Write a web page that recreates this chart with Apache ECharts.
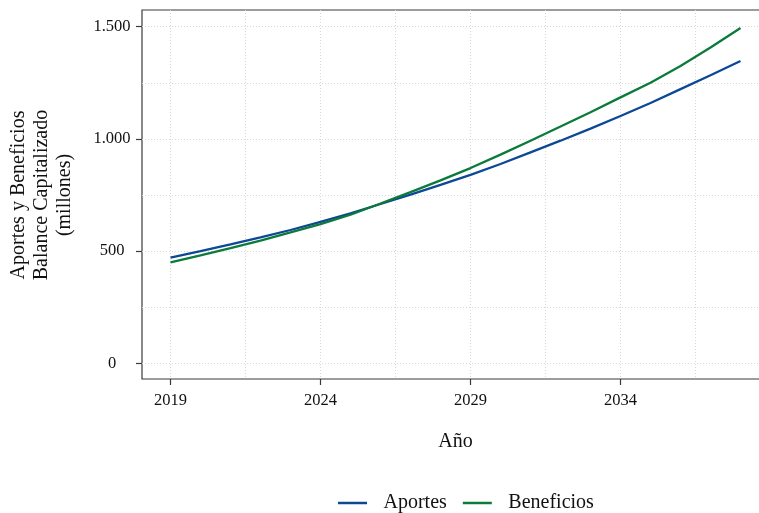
<!DOCTYPE html>
<html>
<head>
<meta charset="utf-8">
<script src="https://cdn.jsdelivr.net/npm/echarts@6/dist/echarts.min.js"></script>
<style>
  html, body { margin: 0; padding: 0; background: #ffffff; }
  #chart { width: 759px; height: 513px; }
</style>
</head>
<body>
<div id="chart"></div>
<script>
// Balance capitalizado: aportes y beneficios acumulados, en millones
const years = [2019, 2020, 2021, 2022, 2023, 2024, 2025, 2026, 2027, 2028,
               2029, 2030, 2031, 2032, 2033, 2034, 2035, 2036, 2037, 2038];
const aportes = [471, 500, 530, 561, 594, 630, 668, 710, 752, 795,
                 840, 888, 940, 992, 1046, 1102, 1160, 1222, 1284, 1347];
const beneficios = [450, 481, 513, 547, 583, 620, 662, 712, 763, 815,
                    870, 930, 992, 1055, 1119, 1185, 1250, 1325, 1407, 1494];
const seriesNames = ['Aportes', 'Beneficios'];
const yTickLabels = [0, 500, 1000, 1500];
const xTickLabels = [2019, 2024, 2029, 2034];

const FONT = 'Liberation Serif';
const TEXT = '#111111';
const AXIS = '#3a3a3a';
const BLUE = '#0d4896';
const GREEN = '#0b7a3b';

const gridLine = { show: true, lineStyle: { color: '#d8d8d8', width: 1, type: [1, 2] } };
const tickStyle = { show: true, length: 6, lineStyle: { color: AXIS, width: 1.2 } };
const hidden = { show: false };

// miles con punto
const fmtMiles = v => String(v).replace(/\B(?=(\d{3})+(?!\d))/g, '.');

const chart = echarts.init(document.getElementById('chart'), null, { renderer: 'canvas' });

chart.setOption({
  animation: false,
  backgroundColor: '#ffffff',
  textStyle: { fontFamily: FONT },
  grid: [
    // marco del panel
    { left: 142, top: 10, right: -10, bottom: 134, show: true, borderColor: AXIS, borderWidth: 1.2,
      backgroundColor: 'transparent', outerBoundsMode: 'none', containLabel: false },
    // zona de datos (0 a 1.500)
    { left: 142, top: 26.7, right: -10, bottom: 149.7, outerBoundsMode: 'none', containLabel: false },
    // rejilla vertical y años
    { left: 170.5, top: 10, right: -11.5, bottom: 134, outerBoundsMode: 'none', containLabel: false }
  ],
  xAxis: [
    { gridIndex: 0, type: 'value', show: false, min: 0, max: 1 },
    { gridIndex: 1, type: 'value', min: 2018.05, max: 2038.95, position: 'bottom',
      axisLine: hidden, axisTick: hidden, axisLabel: hidden, splitLine: hidden,
      name: 'Año', nameLocation: 'middle', nameGap: 68,
      nameTextStyle: { fontFamily: FONT, fontSize: 20, color: TEXT } },
    { gridIndex: 2, type: 'value', min: 2019, max: 2039, interval: 2.5, position: 'bottom',
      axisLine: hidden, axisTick: hidden, axisLabel: hidden, splitLine: gridLine },
    { gridIndex: 2, type: 'value', min: 2019, max: 2039, interval: 5, position: 'bottom',
      axisLine: hidden, axisTick: tickStyle, splitLine: hidden,
      axisLabel: { margin: 13, fontFamily: FONT, fontSize: 16.5, color: TEXT,
                   formatter: v => xTickLabels.includes(v) ? String(v) : '' } }
  ],
  yAxis: [
    { gridIndex: 0, type: 'value', show: false, min: 0, max: 1 },
    { gridIndex: 1, type: 'value', min: 0, max: 1500, interval: 500, position: 'left',
      axisLine: hidden, axisTick: tickStyle, splitLine: hidden,
      axisLabel: { margin: 30, align: 'center', padding: [0, 0, 8, 0],
                   fontFamily: FONT, fontSize: 16.5, color: TEXT,
                   formatter: v => yTickLabels.includes(v) ? fmtMiles(v) : '' },
      name: 'Aportes y Beneficios\nBalance Capitalizado\n(millones)',
      nameLocation: 'middle', nameGap: 66, nameRotate: 90,
      nameTextStyle: { fontFamily: FONT, fontSize: 20, lineHeight: 23, color: TEXT, align: 'center' } },
    { gridIndex: 1, type: 'value', min: 0, max: 1500, interval: 250, position: 'left',
      axisLine: hidden, axisTick: hidden, axisLabel: hidden, splitLine: gridLine },
    { gridIndex: 2, type: 'value', show: false, min: 0, max: 1 }
  ],
  legend: {
    data: seriesNames,
    left: 333, top: 488,
    icon: 'rect', itemWidth: 29, itemHeight: 2.5, itemGap: 16,
    textStyle: { fontFamily: FONT, fontSize: 20, color: TEXT, padding: [0, 0, 0, 11.5] }
  },
  series: [
    { name: seriesNames[0], type: 'line', xAxisIndex: 1, yAxisIndex: 1,
      data: years.map((y, i) => [y, aportes[i]]),
      showSymbol: false, symbol: 'none',
      lineStyle: { width: 2.3, color: BLUE }, itemStyle: { color: BLUE } },
    { name: seriesNames[1], type: 'line', xAxisIndex: 1, yAxisIndex: 1,
      data: years.map((y, i) => [y, beneficios[i]]),
      showSymbol: false, symbol: 'none',
      lineStyle: { width: 2.3, color: GREEN }, itemStyle: { color: GREEN } }
  ]
});
</script>
</body>
</html>
